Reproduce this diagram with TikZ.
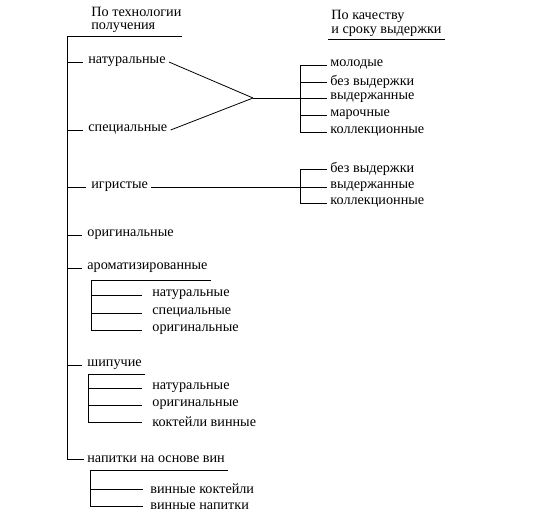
\documentclass[tikz,border=0pt]{standalone}
\usepackage{fontspec}
\setmainfont{Liberation Serif}

\begin{document}
\begin{tikzpicture}[x=1pt, y=-1pt, line width=0.8pt]
\tikzstyle{txt}=[anchor=west, inner xsep=3pt, inner ysep=1pt, font=\fontsize{14.2}{15}\selectfont]
\tikzstyle{head}=[anchor=west, inner xsep=3pt, inner ysep=0.2pt, font=\fontsize{14.2}{15}\selectfont]
	\useasboundingbox (0,0) rectangle (533,531);

	% headers
	\node[head] (tech1) at (88,12) {По технологии};
	\node[head] (tech2) at (88,28) {получения};
	\node[head] (qual1) at (328,16) {По качеству};
	\node[head] (qual2) at (328,32) {и сроку выдержки};
	\coordinate (root) at (67,36);
	\coordinate (rootend) at (182,36);

	% main branches
	\node[txt] (nat) at (85,62) {натуральные};
	\node[txt] (spec) at (85,130) {специальные};
	\node[txt] (igr) at (88,187) {игристые};
	\node[txt] (orig) at (84,235) {оригинальные};
	\node[txt] (arom) at (84,268) {ароматизированные};
	\node[txt] (ship) at (84,365) {шипучие};
	\node[txt] (drinks) at (84,459) {напитки на основе вин};

	% by quality
	\coordinate (join) at (253,98);
	\coordinate (qbr) at (300,98);
	\node[txt] (q1) at (327,65) {молодые};
	\node[txt] (q2) at (327,82) {без выдержки};
	\node[txt] (q3) at (327,98) {выдержанные};
	\node[txt] (q4) at (327,115) {марочные};
	\node[txt] (q5) at (327,132) {коллекционные};

	\coordinate (sbr) at (300,187);
	\node[txt] (s1) at (327,169) {без выдержки};
	\node[txt] (s2) at (327,187) {выдержанные};
	\node[txt] (s3) at (327,203) {коллекционные};

	% sub-groups
	\coordinate (abr) at (91,280);
	\node[txt] (a1) at (149,295) {натуральные};
	\node[txt] (a2) at (149,313) {специальные};
	\node[txt] (a3) at (149,330) {оригинальные};

	\coordinate (hbr) at (88,374);
	\node[txt] (h1) at (149,388) {натуральные};
	\node[txt] (h2) at (149,405) {оригинальные};
	\node[txt] (h3) at (149,422) {коктейли винные};

	\coordinate (dbr) at (90,470);
	\node[txt] (d1) at (147,489) {винные коктейли};
	\node[txt] (d2) at (147,506) {винные напитки};

	% lines
	\draw (rootend) -- (root) -- (root |- drinks.west) -- (drinks.west) ;
	\foreach \n in {nat,spec,igr,orig,arom,ship}
		\draw (root |- \n.west) -- ([xshift=-2]\n.west) ;
	\draw ([yshift=-1.5]qual2.south west) -- ([yshift=-1.5]qual2.south east) ;

	\draw (nat.east) -- (join) ;
	\draw (spec.east) -- (join) ;
	\draw (join) -- (q3.west) ;
	\draw (q1.west) -- (q1.west -| qbr) -- (q5.west -| qbr) -- (q5.west) ;
	\draw (q2.west -| qbr) -- (q2.west) ;
	\draw (q4.west -| qbr) -- (q4.west) ;

	\draw (igr.east) -- (s2.west) ;
	\draw (s1.west) -- (s1.west -| sbr) -- (s3.west -| sbr) -- (s3.west) ;

	\draw (abr -| arom.east) -- (abr) -- (abr |- a3.west) -- ([xshift=-7]a3.west) ;
	\foreach \n in {a1,a2}
		\draw (abr |- \n.west) -- ([xshift=-7]\n.west) ;

	\draw (hbr -| ship.east) -- (hbr) -- (hbr |- h3.west) -- ([xshift=-7]h3.west) ;
	\foreach \n in {h1,h2}
		\draw (hbr |- \n.west) -- ([xshift=-7]\n.west) ;

	\draw (dbr -| drinks.east) -- (dbr) -- (dbr |- d2.west) -- ([xshift=-4]d2.west) ;
	\draw (dbr |- d1.west) -- ([xshift=-4]d1.west) ;
\end{tikzpicture}
\end{document}
